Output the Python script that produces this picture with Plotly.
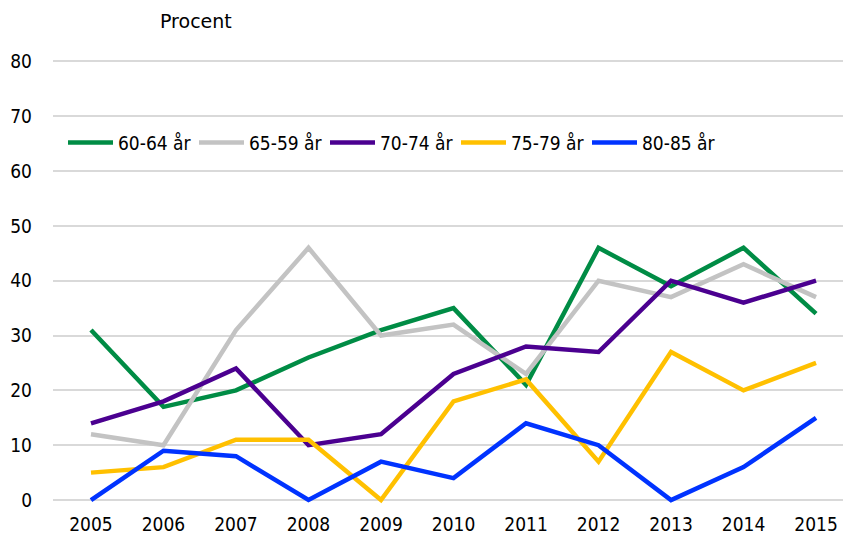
import plotly.graph_objects as go

years = [2005, 2006, 2007, 2008, 2009, 2010, 2011, 2012, 2013, 2014, 2015]
s_60_64 = [31, 17, 20, 26, 31, 35, 21, 46, 39, 46, 34]
s_65_59 = [12, 10, 31, 46, 30, 32, 23, 40, 37, 43, 37]
s_70_74 = [14, 18, 24, 10, 12, 23, 28, 27, 40, 36, 40]
s_75_79 = [5, 6, 11, 11, 0, 18, 22, 7, 27, 20, 25]
s_80_85 = [0, 9, 8, 0, 7, 4, 14, 10, 0, 6, 15]
names = ["60-64 år", "65-59 år", "70-74 år", "75-79 år", "80-85 år"]
colors = ["#008C45", "#C3C3C3", "#4B0090", "#FFC000", "#0033FF"]
yticks = [0, 10, 20, 30, 40, 50, 60, 70, 80]

fig = go.Figure()
for name, vals, col in zip(names, [s_60_64, s_65_59, s_70_74, s_75_79, s_80_85], colors):
    fig.add_trace(go.Scatter(x=years, y=vals, name=name, mode="lines",
                             line=dict(color=col, width=4.5)))

font_main = "DejaVu Sans Condensed, DejaVu Sans"
tf = dict(family=font_main, size=19, color="#000")
pw = 843 - 53
ph = 545 - 34 - 34
fig.update_layout(
    width=843, height=545,
    margin=dict(l=53, r=0, t=34, b=34),
    plot_bgcolor="white", paper_bgcolor="white",
    showlegend=True,
    legend=dict(orientation="h", x=10 / pw, y=0.772, xanchor="left", yanchor="middle",
                font=tf, entrywidth=71, entrywidthmode="pixels",
                bgcolor="rgba(0,0,0,0)", itemwidth=45, tracegroupgap=0),
    xaxis=dict(range=[2004.476, 2015.372], tickvals=years, ticktext=[str(y) for y in years],
               showgrid=False, zeroline=False, showline=False, ticks="",
               tickfont=tf),
    yaxis=dict(range=[-2, 85], tickvals=yticks, showgrid=True, gridcolor="#D9D9D9",
               gridwidth=2, zeroline=False, showline=False, ticks="",
               ticklabelstandoff=20, tickfont=tf),
)
fig.add_annotation(text="Procent", x=(158 - 53) / pw, y=(545 - 34 - 21) / ph,
                   xref="paper", yref="paper", showarrow=False,
                   xanchor="left", yanchor="middle",
                   font=dict(family="DejaVu Sans", size=19, color="#000"))
fig.write_html("out.html", config={"displayModeBar": False},
               post_script="document.body.style.margin='0';")
